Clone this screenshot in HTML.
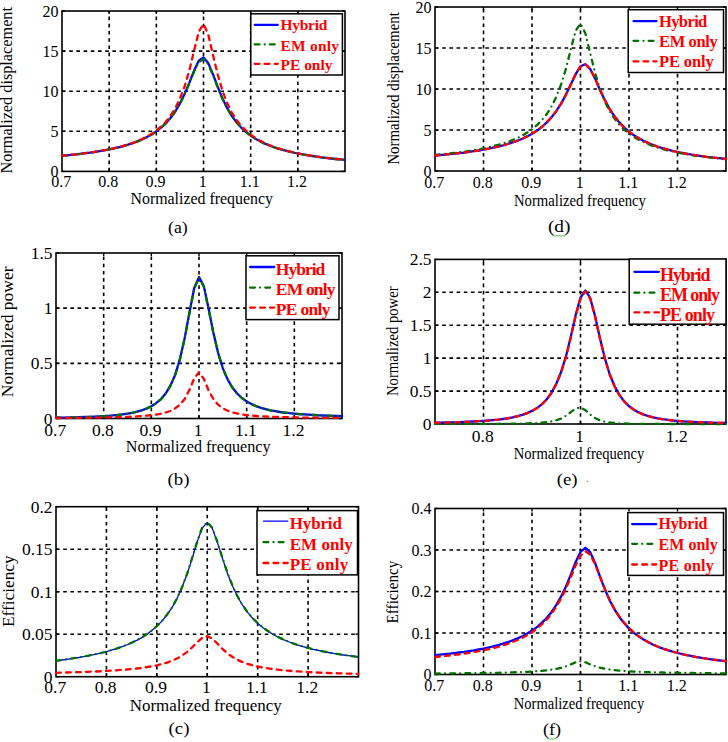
<!DOCTYPE html>
<html><head><meta charset="utf-8"><style>
html,body{margin:0;padding:0;background:#fff;}
svg{display:block;}
.grid{stroke:#000;stroke-width:1.6;stroke-dasharray:3.6 3.6;}
.ax{stroke:#000;stroke-width:1.4;}
.tk{font-family:"Liberation Serif", serif;font-size:16px;fill:#000;}
.lb{font-family:"Liberation Serif", serif;font-size:16px;fill:#000;}
.lg{font-family:"Liberation Serif", serif;font-size:16px;font-weight:bold;fill:#ff0000;}
</style></head><body>
<svg width="728" height="742" viewBox="0 0 728 742">
<rect width="728" height="742" fill="#fff"/>
<line x1="109.17" y1="171.4" x2="109.17" y2="11" class="grid"/>
<line x1="156.33" y1="171.4" x2="156.33" y2="11" class="grid"/>
<line x1="203.5" y1="171.4" x2="203.5" y2="11" class="grid"/>
<line x1="250.67" y1="171.4" x2="250.67" y2="11" class="grid"/>
<line x1="297.83" y1="171.4" x2="297.83" y2="11" class="grid"/>
<line x1="62" y1="131.3" x2="345" y2="131.3" class="grid"/>
<line x1="62" y1="91.2" x2="345" y2="91.2" class="grid"/>
<line x1="62" y1="51.1" x2="345" y2="51.1" class="grid"/>
<line x1="109.17" y1="171.4" x2="109.17" y2="168.4" class="ax"/><line x1="109.17" y1="11" x2="109.17" y2="14" class="ax"/>
<line x1="156.33" y1="171.4" x2="156.33" y2="168.4" class="ax"/><line x1="156.33" y1="11" x2="156.33" y2="14" class="ax"/>
<line x1="203.5" y1="171.4" x2="203.5" y2="168.4" class="ax"/><line x1="203.5" y1="11" x2="203.5" y2="14" class="ax"/>
<line x1="250.67" y1="171.4" x2="250.67" y2="168.4" class="ax"/><line x1="250.67" y1="11" x2="250.67" y2="14" class="ax"/>
<line x1="297.83" y1="171.4" x2="297.83" y2="168.4" class="ax"/><line x1="297.83" y1="11" x2="297.83" y2="14" class="ax"/>
<line x1="62" y1="171.4" x2="65" y2="171.4" class="ax"/><line x1="345" y1="171.4" x2="342" y2="171.4" class="ax"/>
<line x1="62" y1="131.3" x2="65" y2="131.3" class="ax"/><line x1="345" y1="131.3" x2="342" y2="131.3" class="ax"/>
<line x1="62" y1="91.2" x2="65" y2="91.2" class="ax"/><line x1="345" y1="91.2" x2="342" y2="91.2" class="ax"/>
<line x1="62" y1="51.1" x2="65" y2="51.1" class="ax"/><line x1="345" y1="51.1" x2="342" y2="51.1" class="ax"/>
<line x1="62" y1="11" x2="65" y2="11" class="ax"/><line x1="345" y1="11" x2="342" y2="11" class="ax"/>
<rect x="62" y="11" width="283" height="160.4" fill="none" stroke="#000" stroke-width="1.6"/>
<polyline points="62.0,155.7 66.7,155.3 71.4,154.8 76.2,154.3 80.9,153.8 85.6,153.2 90.3,152.6 95.0,151.9 99.7,151.1 104.5,150.3 109.2,149.4 113.9,148.4 118.6,147.3 123.3,146.1 128.0,144.7 132.8,143.1 137.5,141.4 142.2,139.4 146.9,137.1 151.6,134.5 156.3,131.4 161.1,127.7 165.8,123.3 170.5,118.0 175.2,111.5 179.9,103.6 184.6,93.9 189.4,82.6 194.1,70.6 198.8,60.8 203.5,57.5 208.2,62.9 212.9,74.1 217.7,86.7 222.4,98.2 227.1,107.9 231.8,115.9 236.5,122.3 241.2,127.6 246.0,131.9 250.7,135.6 255.4,138.7 260.1,141.3 264.8,143.6 269.5,145.5 274.2,147.3 279.0,148.8 283.7,150.2 288.4,151.4 293.1,152.5 297.8,153.5 302.6,154.4 307.3,155.2 312.0,156.0 316.7,156.7 321.4,157.3 326.1,157.9 330.9,158.5 335.6,159.0 340.3,159.4 345.0,159.9" fill="none" stroke="#0000ff" stroke-width="2.3" stroke-linecap="round" stroke-linejoin="round"/>
<polyline points="62.0,155.7 66.7,155.3 71.4,154.8 76.2,154.3 80.9,153.8 85.6,153.2 90.3,152.6 95.0,151.9 99.7,151.1 104.5,150.3 109.2,149.4 113.9,148.4 118.6,147.3 123.3,146.1 128.0,144.7 132.8,143.2 137.5,141.4 142.2,139.4 146.9,137.2 151.6,134.5 156.3,131.4 161.1,127.8 165.8,123.4 170.5,118.1 175.2,111.7 179.9,103.9 184.6,94.4 189.4,83.3 194.1,71.6 198.8,62.2 203.5,59.1 208.2,64.3 212.9,75.1 217.7,87.4 222.4,98.7 227.1,108.2 231.8,116.1 236.5,122.4 241.2,127.7 246.0,132.0 250.7,135.6 255.4,138.7 260.1,141.3 264.8,143.6 269.5,145.6 274.2,147.3 279.0,148.8 283.7,150.2 288.4,151.4 293.1,152.5 297.8,153.5 302.6,154.4 307.3,155.2 312.0,156.0 316.7,156.7 321.4,157.3 326.1,157.9 330.9,158.5 335.6,159.0 340.3,159.4 345.0,159.9" fill="none" stroke="#007000" stroke-width="2.3" stroke-linecap="round" stroke-linejoin="round" stroke-dasharray="4.8 5.2 0 5.2"/>
<polyline points="62.0,155.7 66.7,155.3 71.4,154.8 76.2,154.3 80.9,153.7 85.6,153.1 90.3,152.5 95.0,151.8 99.7,151.0 104.5,150.2 109.2,149.3 113.9,148.3 118.6,147.1 123.3,145.9 128.0,144.5 132.8,142.9 137.5,141.1 142.2,139.0 146.9,136.6 151.6,133.8 156.3,130.5 161.1,126.6 165.8,121.8 170.5,115.8 175.2,108.3 179.9,98.7 184.6,86.3 189.4,70.2 194.1,50.6 198.8,31.7 203.5,24.0 208.2,34.3 212.9,54.6 217.7,74.5 222.4,90.6 227.1,103.1 231.8,112.6 236.5,120.0 241.2,126.0 246.0,130.7 250.7,134.7 255.4,138.0 260.1,140.7 264.8,143.1 269.5,145.2 274.2,147.0 279.0,148.6 283.7,150.0 288.4,151.2 293.1,152.4 297.8,153.4 302.6,154.3 307.3,155.1 312.0,155.9 316.7,156.6 321.4,157.2 326.1,157.8 330.9,158.4 335.6,158.9 340.3,159.4 345.0,159.8" fill="none" stroke="#ff0000" stroke-width="2.3" stroke-linecap="round" stroke-linejoin="round" stroke-dasharray="4.8 5.2"/>
<rect x="250.8" y="13.8" width="91.6" height="61.2" fill="#fff" stroke="#000" stroke-width="1.5"/>
<line x1="254.7" y1="24.8" x2="277.8" y2="24.8" stroke="#0000ff" stroke-width="2.3" stroke-linecap="round"/>
<text x="280.5" y="29.8" class="lg" style="font-size:15.5px" textLength="46.8" lengthAdjust="spacing">Hybrid</text>
<line x1="254.7" y1="44.4" x2="277.8" y2="44.4" stroke="#007000" stroke-width="2.3" stroke-linecap="round" stroke-dasharray="4.8 5.2 0 5.2"/>
<text x="280.5" y="50.6" class="lg" style="font-size:15.5px" textLength="58.5" lengthAdjust="spacing">EM only</text>
<line x1="254.7" y1="63.8" x2="277.8" y2="63.8" stroke="#ff0000" stroke-width="2.3" stroke-linecap="round" stroke-dasharray="4.8 5.2"/>
<text x="280.5" y="70.0" class="lg" style="font-size:15.5px" textLength="52" lengthAdjust="spacing">PE only</text>
<text x="58.5" y="176.9" class="tk" style="font-size:16px" text-anchor="end">0</text>
<text x="58.5" y="136.8" class="tk" style="font-size:16px" text-anchor="end">5</text>
<text x="58.5" y="96.7" class="tk" style="font-size:16px" text-anchor="end">10</text>
<text x="58.5" y="56.6" class="tk" style="font-size:16px" text-anchor="end">15</text>
<text x="58.5" y="16.5" class="tk" style="font-size:16px" text-anchor="end">20</text>
<text x="61.2" y="186.5" class="tk" style="font-size:16px" text-anchor="middle">0.7</text>
<text x="108.37" y="186.5" class="tk" style="font-size:16px" text-anchor="middle">0.8</text>
<text x="155.53" y="186.5" class="tk" style="font-size:16px" text-anchor="middle">0.9</text>
<text x="202.7" y="186.5" class="tk" style="font-size:16px" text-anchor="middle">1</text>
<text x="249.87" y="186.5" class="tk" style="font-size:16px" text-anchor="middle">1.1</text>
<text x="297.03" y="186.5" class="tk" style="font-size:16px" text-anchor="middle">1.2</text>
<text transform="translate(12,173.5) rotate(-90)" x="0" y="0" class="lb" textLength="166.5" lengthAdjust="spacingAndGlyphs">Normalized displacement</text>
<text x="130.5" y="204" class="lb" textLength="142.5" lengthAdjust="spacingAndGlyphs">Normalized frequency</text>
<text x="168" y="233" class="lb" textLength="19.7" lengthAdjust="spacingAndGlyphs">(a)</text>
<line x1="103.67" y1="418.5" x2="103.67" y2="253" class="grid"/>
<line x1="151.33" y1="418.5" x2="151.33" y2="253" class="grid"/>
<line x1="199" y1="418.5" x2="199" y2="253" class="grid"/>
<line x1="246.67" y1="418.5" x2="246.67" y2="253" class="grid"/>
<line x1="294.33" y1="418.5" x2="294.33" y2="253" class="grid"/>
<line x1="56" y1="363.33" x2="342" y2="363.33" class="grid"/>
<line x1="56" y1="308.17" x2="342" y2="308.17" class="grid"/>
<line x1="103.67" y1="418.5" x2="103.67" y2="415.5" class="ax"/><line x1="103.67" y1="253" x2="103.67" y2="256" class="ax"/>
<line x1="151.33" y1="418.5" x2="151.33" y2="415.5" class="ax"/><line x1="151.33" y1="253" x2="151.33" y2="256" class="ax"/>
<line x1="199" y1="418.5" x2="199" y2="415.5" class="ax"/><line x1="199" y1="253" x2="199" y2="256" class="ax"/>
<line x1="246.67" y1="418.5" x2="246.67" y2="415.5" class="ax"/><line x1="246.67" y1="253" x2="246.67" y2="256" class="ax"/>
<line x1="294.33" y1="418.5" x2="294.33" y2="415.5" class="ax"/><line x1="294.33" y1="253" x2="294.33" y2="256" class="ax"/>
<line x1="56" y1="418.5" x2="59" y2="418.5" class="ax"/><line x1="342" y1="418.5" x2="339" y2="418.5" class="ax"/>
<line x1="56" y1="363.33" x2="59" y2="363.33" class="ax"/><line x1="342" y1="363.33" x2="339" y2="363.33" class="ax"/>
<line x1="56" y1="308.17" x2="59" y2="308.17" class="ax"/><line x1="342" y1="308.17" x2="339" y2="308.17" class="ax"/>
<line x1="56" y1="253" x2="59" y2="253" class="ax"/><line x1="342" y1="253" x2="339" y2="253" class="ax"/>
<rect x="56" y="253" width="286" height="165.5" fill="none" stroke="#000" stroke-width="1.6"/>
<polyline points="56.0,417.7 60.8,417.7 65.5,417.6 70.3,417.5 75.1,417.3 79.8,417.2 84.6,417.0 89.4,416.9 94.1,416.7 98.9,416.4 103.7,416.1 108.4,415.8 113.2,415.4 118.0,414.9 122.7,414.3 127.5,413.6 132.3,412.8 137.0,411.7 141.8,410.3 146.6,408.5 151.3,406.3 156.1,403.2 160.9,399.2 165.6,393.6 170.4,385.7 175.2,374.7 179.9,359.2 184.7,338.0 189.5,312.3 194.2,288.0 199.0,277.1 203.8,286.0 208.5,308.2 213.3,332.4 218.1,352.8 222.8,368.1 227.6,379.4 232.4,387.5 237.1,393.5 241.9,398.0 246.7,401.4 251.4,404.1 256.2,406.2 261.0,407.8 265.7,409.2 270.5,410.3 275.3,411.2 280.0,412.0 284.8,412.6 289.6,413.2 294.3,413.6 299.1,414.1 303.9,414.4 308.6,414.7 313.4,415.0 318.2,415.3 322.9,415.5 327.7,415.7 332.5,415.9 337.2,416.0 342.0,416.2" fill="none" stroke="#0000ff" stroke-width="2.3" stroke-linecap="round" stroke-linejoin="round"/>
<polyline points="56.0,417.7 60.8,417.7 65.5,417.6 70.3,417.5 75.1,417.3 79.8,417.2 84.6,417.1 89.4,416.9 94.1,416.7 98.9,416.4 103.7,416.1 108.4,415.8 113.2,415.4 118.0,414.9 122.7,414.4 127.5,413.7 132.3,412.8 137.0,411.7 141.8,410.3 146.6,408.6 151.3,406.3 156.1,403.3 160.9,399.3 165.6,393.7 170.4,385.9 175.2,374.9 179.9,359.4 184.7,338.4 189.5,312.8 194.2,288.7 199.0,277.8 203.8,286.7 208.5,308.8 213.3,332.9 218.1,353.1 222.8,368.4 227.6,379.6 232.4,387.7 237.1,393.6 241.9,398.1 246.7,401.5 251.4,404.1 256.2,406.2 261.0,407.9 265.7,409.2 270.5,410.3 275.3,411.2 280.0,412.0 284.8,412.6 289.6,413.2 294.3,413.7 299.1,414.1 303.9,414.4 308.6,414.8 313.4,415.0 318.2,415.3 322.9,415.5 327.7,415.7 332.5,415.9 337.2,416.0 342.0,416.2" fill="none" stroke="#007000" stroke-width="2.3" stroke-linecap="round" stroke-linejoin="round" stroke-dasharray="4.8 5.2 0 5.2"/>
<polyline points="56.0,418.0 60.8,418.0 65.5,418.0 70.3,417.9 75.1,417.9 79.8,417.9 84.6,417.8 89.4,417.8 94.1,417.7 98.9,417.6 103.7,417.5 108.4,417.4 113.2,417.3 118.0,417.2 122.7,417.1 127.5,416.9 132.3,416.7 137.0,416.4 141.8,416.1 146.6,415.7 151.3,415.2 156.1,414.6 160.9,413.7 165.6,412.5 170.4,410.9 175.2,408.4 179.9,404.7 184.7,398.9 189.5,389.9 194.2,378.4 199.0,372.1 203.8,378.8 208.5,390.2 213.3,399.0 218.1,404.7 222.8,408.3 227.6,410.7 232.4,412.4 237.1,413.5 241.9,414.4 246.7,415.1 251.4,415.6 256.2,416.0 261.0,416.3 265.7,416.5 270.5,416.8 275.3,416.9 280.0,417.1 284.8,417.2 289.6,417.3 294.3,417.4 299.1,417.5 303.9,417.6 308.6,417.7 313.4,417.7 318.2,417.8 322.9,417.8 327.7,417.9 332.5,417.9 337.2,417.9 342.0,418.0" fill="none" stroke="#ff0000" stroke-width="2.3" stroke-linecap="round" stroke-linejoin="round" stroke-dasharray="4.8 5.2"/>
<rect x="246" y="255.8" width="93" height="63.8" fill="#fff" stroke="#000" stroke-width="1.5"/>
<line x1="250.1" y1="267" x2="274.2" y2="267" stroke="#0000ff" stroke-width="2.3" stroke-linecap="round"/>
<text x="275.8" y="274.6" class="lg" style="font-size:17.5px" textLength="49.5" lengthAdjust="spacing">Hybrid</text>
<line x1="250.1" y1="287.6" x2="274.2" y2="287.6" stroke="#007000" stroke-width="2.3" stroke-linecap="round" stroke-dasharray="4.8 5.2 0 5.2"/>
<text x="275.8" y="294.8" class="lg" style="font-size:17.5px" textLength="59.7" lengthAdjust="spacing">EM only</text>
<line x1="250.1" y1="307.6" x2="274.2" y2="307.6" stroke="#ff0000" stroke-width="2.3" stroke-linecap="round" stroke-dasharray="4.8 5.2"/>
<text x="275.8" y="315.2" class="lg" style="font-size:17.5px" textLength="54.7" lengthAdjust="spacing">PE only</text>
<text x="52.5" y="424.52" class="tk" style="font-size:17.5px" text-anchor="end">0</text>
<text x="52.5" y="369.35" class="tk" style="font-size:17.5px" text-anchor="end">0.5</text>
<text x="52.5" y="314.18" class="tk" style="font-size:17.5px" text-anchor="end">1</text>
<text x="52.5" y="259.02" class="tk" style="font-size:17.5px" text-anchor="end">1.5</text>
<text x="55.2" y="435.5" class="tk" style="font-size:17.5px" text-anchor="middle">0.7</text>
<text x="102.87" y="435.5" class="tk" style="font-size:17.5px" text-anchor="middle">0.8</text>
<text x="150.53" y="435.5" class="tk" style="font-size:17.5px" text-anchor="middle">0.9</text>
<text x="198.2" y="435.5" class="tk" style="font-size:17.5px" text-anchor="middle">1</text>
<text x="245.87" y="435.5" class="tk" style="font-size:17.5px" text-anchor="middle">1.1</text>
<text x="293.53" y="435.5" class="tk" style="font-size:17.5px" text-anchor="middle">1.2</text>
<text transform="translate(13,397.2) rotate(-90)" x="0" y="0" class="lb" textLength="130.8" lengthAdjust="spacingAndGlyphs">Normalized power</text>
<text x="125.8" y="451.8" class="lb" textLength="144.7" lengthAdjust="spacingAndGlyphs">Normalized frequency</text>
<text x="167.5" y="485" class="lb" textLength="22" lengthAdjust="spacingAndGlyphs">(b)</text>
<line x1="106.42" y1="676.7" x2="106.42" y2="506.7" class="grid"/>
<line x1="156.83" y1="676.7" x2="156.83" y2="506.7" class="grid"/>
<line x1="207.25" y1="676.7" x2="207.25" y2="506.7" class="grid"/>
<line x1="257.67" y1="676.7" x2="257.67" y2="506.7" class="grid"/>
<line x1="308.08" y1="676.7" x2="308.08" y2="506.7" class="grid"/>
<line x1="56" y1="634.2" x2="358.5" y2="634.2" class="grid"/>
<line x1="56" y1="591.7" x2="358.5" y2="591.7" class="grid"/>
<line x1="56" y1="549.2" x2="358.5" y2="549.2" class="grid"/>
<line x1="106.42" y1="676.7" x2="106.42" y2="673.7" class="ax"/><line x1="106.42" y1="506.7" x2="106.42" y2="509.7" class="ax"/>
<line x1="156.83" y1="676.7" x2="156.83" y2="673.7" class="ax"/><line x1="156.83" y1="506.7" x2="156.83" y2="509.7" class="ax"/>
<line x1="207.25" y1="676.7" x2="207.25" y2="673.7" class="ax"/><line x1="207.25" y1="506.7" x2="207.25" y2="509.7" class="ax"/>
<line x1="257.67" y1="676.7" x2="257.67" y2="673.7" class="ax"/><line x1="257.67" y1="506.7" x2="257.67" y2="509.7" class="ax"/>
<line x1="308.08" y1="676.7" x2="308.08" y2="673.7" class="ax"/><line x1="308.08" y1="506.7" x2="308.08" y2="509.7" class="ax"/>
<line x1="56" y1="676.7" x2="59" y2="676.7" class="ax"/><line x1="358.5" y1="676.7" x2="355.5" y2="676.7" class="ax"/>
<line x1="56" y1="634.2" x2="59" y2="634.2" class="ax"/><line x1="358.5" y1="634.2" x2="355.5" y2="634.2" class="ax"/>
<line x1="56" y1="591.7" x2="59" y2="591.7" class="ax"/><line x1="358.5" y1="591.7" x2="355.5" y2="591.7" class="ax"/>
<line x1="56" y1="549.2" x2="59" y2="549.2" class="ax"/><line x1="358.5" y1="549.2" x2="355.5" y2="549.2" class="ax"/>
<line x1="56" y1="506.7" x2="59" y2="506.7" class="ax"/><line x1="358.5" y1="506.7" x2="355.5" y2="506.7" class="ax"/>
<rect x="56" y="506.7" width="302.5" height="170" fill="none" stroke="#000" stroke-width="1.6"/>
<polyline points="56.0,660.8 61.0,660.2 66.1,659.5 71.1,658.7 76.2,658.0 81.2,657.1 86.3,656.2 91.3,655.2 96.3,654.1 101.4,652.9 106.4,651.7 111.5,650.2 116.5,648.7 121.5,646.9 126.6,645.0 131.6,642.8 136.7,640.4 141.7,637.6 146.8,634.3 151.8,630.6 156.8,626.3 161.9,621.1 166.9,615.0 172.0,607.6 177.0,598.6 182.0,587.5 187.1,574.1 192.1,558.5 197.2,541.9 202.2,528.0 207.3,522.6 212.3,528.4 217.3,542.1 222.4,558.1 227.4,573.2 232.5,586.0 237.5,596.5 242.5,605.2 247.6,612.4 252.6,618.3 257.7,623.3 262.7,627.5 267.8,631.1 272.8,634.2 277.8,637.0 282.9,639.4 287.9,641.5 293.0,643.4 298.0,645.1 303.0,646.6 308.1,648.0 313.1,649.3 318.2,650.4 323.2,651.5 328.3,652.5 333.3,653.4 338.3,654.2 343.4,655.0 348.4,655.7 353.5,656.4 358.5,657.0" fill="none" stroke="#0000ff" stroke-width="1.3" stroke-linecap="round" stroke-linejoin="round"/>
<polyline points="56.0,660.8 61.0,660.1 66.1,659.4 71.1,658.7 76.2,657.9 81.2,657.0 86.3,656.1 91.3,655.1 96.3,654.0 101.4,652.9 106.4,651.6 111.5,650.2 116.5,648.6 121.5,646.8 126.6,644.9 131.6,642.7 136.7,640.3 141.7,637.4 146.8,634.2 151.8,630.5 156.8,626.1 161.9,621.0 166.9,614.8 172.0,607.4 177.0,598.3 182.0,587.3 187.1,573.8 192.1,558.1 197.2,541.4 202.2,527.6 207.3,522.1 212.3,527.9 217.3,541.7 222.4,557.8 227.4,572.8 232.5,585.7 237.5,596.3 242.5,605.0 247.6,612.2 252.6,618.1 257.7,623.1 262.7,627.3 267.8,631.0 272.8,634.1 277.8,636.9 282.9,639.3 287.9,641.4 293.0,643.3 298.0,645.0 303.0,646.5 308.1,647.9 313.1,649.2 318.2,650.3 323.2,651.4 328.3,652.4 333.3,653.3 338.3,654.1 343.4,654.9 348.4,655.6 353.5,656.3 358.5,656.9" fill="none" stroke="#007000" stroke-width="2.3" stroke-linecap="round" stroke-linejoin="round" stroke-dasharray="4.8 5.2 0 5.2"/>
<polyline points="56.0,672.8 61.0,672.7 66.1,672.5 71.1,672.4 76.2,672.2 81.2,672.1 86.3,671.9 91.3,671.7 96.3,671.5 101.4,671.2 106.4,670.9 111.5,670.6 116.5,670.3 121.5,669.9 126.6,669.5 131.6,669.0 136.7,668.5 141.7,667.9 146.8,667.1 151.8,666.3 156.8,665.3 161.9,664.1 166.9,662.6 172.0,660.7 177.0,658.5 182.0,655.6 187.1,651.9 192.1,647.4 197.2,642.3 202.2,637.8 207.3,636.2 212.3,638.6 217.3,643.5 222.4,648.8 227.4,653.3 232.5,657.0 237.5,659.8 242.5,662.1 247.6,663.9 252.6,665.3 257.7,666.5 262.7,667.5 267.8,668.3 272.8,669.1 277.8,669.7 282.9,670.2 287.9,670.7 293.0,671.1 298.0,671.4 303.0,671.8 308.1,672.1 313.1,672.3 318.2,672.6 323.2,672.8 328.3,673.0 333.3,673.2 338.3,673.3 343.4,673.5 348.4,673.6 353.5,673.7 358.5,673.9" fill="none" stroke="#ff0000" stroke-width="2.3" stroke-linecap="round" stroke-linejoin="round" stroke-dasharray="4.8 5.2"/>
<rect x="257" y="510.6" width="100.5" height="64.3" fill="#fff" stroke="#000" stroke-width="1.5"/>
<line x1="263.5" y1="521.2" x2="287.7" y2="521.2" stroke="#0000ff" stroke-width="1.3" stroke-linecap="round"/>
<text x="289.7" y="529" class="lg" style="font-size:17px" textLength="52.2" lengthAdjust="spacing">Hybrid</text>
<line x1="263.5" y1="542.2" x2="287.7" y2="542.2" stroke="#007000" stroke-width="2.3" stroke-linecap="round" stroke-dasharray="4.8 5.2 0 5.2"/>
<text x="289.7" y="549.6" class="lg" style="font-size:17px" textLength="63.1" lengthAdjust="spacing">EM only</text>
<line x1="263.5" y1="563" x2="287.7" y2="563" stroke="#ff0000" stroke-width="2.3" stroke-linecap="round" stroke-dasharray="4.8 5.2"/>
<text x="289.7" y="570.2" class="lg" style="font-size:17px" textLength="58.5" lengthAdjust="spacing">PE only</text>
<text x="52.5" y="682.72" class="tk" style="font-size:17.5px" text-anchor="end">0</text>
<text x="52.5" y="640.22" class="tk" style="font-size:17.5px" text-anchor="end">0.05</text>
<text x="52.5" y="597.72" class="tk" style="font-size:17.5px" text-anchor="end">0.1</text>
<text x="52.5" y="555.22" class="tk" style="font-size:17.5px" text-anchor="end">0.15</text>
<text x="52.5" y="512.72" class="tk" style="font-size:17.5px" text-anchor="end">0.2</text>
<text x="55.2" y="692.5" class="tk" style="font-size:17.5px" text-anchor="middle">0.7</text>
<text x="105.62" y="692.5" class="tk" style="font-size:17.5px" text-anchor="middle">0.8</text>
<text x="156.03" y="692.5" class="tk" style="font-size:17.5px" text-anchor="middle">0.9</text>
<text x="206.45" y="692.5" class="tk" style="font-size:17.5px" text-anchor="middle">1</text>
<text x="256.87" y="692.5" class="tk" style="font-size:17.5px" text-anchor="middle">1.1</text>
<text x="307.28" y="692.5" class="tk" style="font-size:17.5px" text-anchor="middle">1.2</text>
<text transform="translate(14,627) rotate(-90)" x="0" y="0" class="lb" textLength="71.7" lengthAdjust="spacingAndGlyphs">Efficiency</text>
<text x="129.7" y="710.7" class="lb" textLength="152" lengthAdjust="spacingAndGlyphs">Normalized frequency</text>
<text x="168.6" y="734" class="lb" textLength="20.9" lengthAdjust="spacingAndGlyphs">(c)</text>
<line x1="483.5" y1="171" x2="483.5" y2="7" class="grid"/>
<line x1="532" y1="171" x2="532" y2="7" class="grid"/>
<line x1="580.5" y1="171" x2="580.5" y2="7" class="grid"/>
<line x1="629" y1="171" x2="629" y2="7" class="grid"/>
<line x1="677.5" y1="171" x2="677.5" y2="7" class="grid"/>
<line x1="435" y1="130" x2="726" y2="130" class="grid"/>
<line x1="435" y1="89" x2="726" y2="89" class="grid"/>
<line x1="435" y1="48" x2="726" y2="48" class="grid"/>
<line x1="483.5" y1="171" x2="483.5" y2="168" class="ax"/><line x1="483.5" y1="7" x2="483.5" y2="10" class="ax"/>
<line x1="532" y1="171" x2="532" y2="168" class="ax"/><line x1="532" y1="7" x2="532" y2="10" class="ax"/>
<line x1="580.5" y1="171" x2="580.5" y2="168" class="ax"/><line x1="580.5" y1="7" x2="580.5" y2="10" class="ax"/>
<line x1="629" y1="171" x2="629" y2="168" class="ax"/><line x1="629" y1="7" x2="629" y2="10" class="ax"/>
<line x1="677.5" y1="171" x2="677.5" y2="168" class="ax"/><line x1="677.5" y1="7" x2="677.5" y2="10" class="ax"/>
<line x1="435" y1="171" x2="438" y2="171" class="ax"/><line x1="726" y1="171" x2="723" y2="171" class="ax"/>
<line x1="435" y1="130" x2="438" y2="130" class="ax"/><line x1="726" y1="130" x2="723" y2="130" class="ax"/>
<line x1="435" y1="89" x2="438" y2="89" class="ax"/><line x1="726" y1="89" x2="723" y2="89" class="ax"/>
<line x1="435" y1="48" x2="438" y2="48" class="ax"/><line x1="726" y1="48" x2="723" y2="48" class="ax"/>
<line x1="435" y1="7" x2="438" y2="7" class="ax"/><line x1="726" y1="7" x2="723" y2="7" class="ax"/>
<rect x="435" y="7" width="291" height="164" fill="none" stroke="#000" stroke-width="1.6"/>
<polyline points="435.0,155.6 439.9,155.2 444.7,154.7 449.6,154.2 454.4,153.7 459.2,153.2 464.1,152.6 469.0,151.9 473.8,151.2 478.7,150.5 483.5,149.6 488.4,148.7 493.2,147.7 498.1,146.6 502.9,145.4 507.8,144.0 512.6,142.4 517.5,140.7 522.3,138.7 527.2,136.4 532.0,133.7 536.9,130.6 541.7,127.0 546.6,122.6 551.4,117.4 556.2,111.2 561.1,103.6 566.0,94.6 570.8,84.5 575.6,74.2 580.5,66.3 585.4,64.2 590.2,69.0 595.1,78.6 599.9,89.7 604.8,100.0 609.6,108.9 614.5,116.3 619.3,122.4 624.2,127.5 629.0,131.7 633.9,135.2 638.7,138.2 643.5,140.8 648.4,143.1 653.2,145.0 658.1,146.8 663.0,148.3 667.8,149.6 672.6,150.9 677.5,152.0 682.4,153.0 687.2,153.9 692.0,154.7 696.9,155.4 701.8,156.1 706.6,156.8 711.5,157.4 716.3,157.9 721.2,158.4 726.0,158.9" fill="none" stroke="#0000ff" stroke-width="2.3" stroke-linecap="round" stroke-linejoin="round"/>
<polyline points="435.0,155.0 439.9,154.5 444.7,154.0 449.6,153.5 454.4,152.9 459.2,152.3 464.1,151.7 469.0,151.0 473.8,150.2 478.7,149.3 483.5,148.4 488.4,147.4 493.2,146.2 498.1,144.9 502.9,143.5 507.8,141.9 512.6,140.0 517.5,137.9 522.3,135.5 527.2,132.6 532.0,129.3 536.9,125.2 541.7,120.3 546.6,114.3 551.4,106.7 556.2,97.1 561.1,84.5 566.0,68.5 570.8,49.3 575.6,30.9 580.5,23.5 585.4,33.5 590.2,53.2 595.1,72.9 599.9,89.0 604.8,101.5 609.6,111.1 614.5,118.6 619.3,124.6 624.2,129.5 629.0,133.5 633.9,136.9 638.7,139.7 643.5,142.1 648.4,144.2 653.2,146.1 658.1,147.7 663.0,149.1 667.8,150.4 672.6,151.5 677.5,152.6 682.4,153.5 687.2,154.4 692.0,155.2 696.9,155.9 701.8,156.5 706.6,157.1 711.5,157.7 716.3,158.2 721.2,158.7 726.0,159.2" fill="none" stroke="#007000" stroke-width="2.3" stroke-linecap="round" stroke-linejoin="round" stroke-dasharray="4.8 5.2 0 5.2"/>
<polyline points="435.0,155.6 439.9,155.2 444.7,154.7 449.6,154.2 454.4,153.7 459.2,153.2 464.1,152.6 469.0,151.9 473.8,151.2 478.7,150.5 483.5,149.6 488.4,148.7 493.2,147.7 498.1,146.6 502.9,145.4 507.8,144.0 512.6,142.4 517.5,140.7 522.3,138.7 527.2,136.4 532.0,133.7 536.9,130.6 541.7,127.0 546.6,122.6 551.4,117.4 556.2,111.2 561.1,103.6 566.0,94.6 570.8,84.5 575.6,74.2 580.5,66.3 585.4,64.2 590.2,69.0 595.1,78.6 599.9,89.7 604.8,100.0 609.6,108.9 614.5,116.3 619.3,122.4 624.2,127.5 629.0,131.7 633.9,135.2 638.7,138.2 643.5,140.8 648.4,143.1 653.2,145.0 658.1,146.8 663.0,148.3 667.8,149.6 672.6,150.9 677.5,152.0 682.4,153.0 687.2,153.9 692.0,154.7 696.9,155.4 701.8,156.1 706.6,156.8 711.5,157.4 716.3,157.9 721.2,158.4 726.0,158.9" fill="none" stroke="#ff0000" stroke-width="2.3" stroke-linecap="round" stroke-linejoin="round" stroke-dasharray="4.8 5.2"/>
<rect x="628.2" y="9.7" width="95.3" height="62.8" fill="#fff" stroke="#000" stroke-width="1.5"/>
<line x1="633.5" y1="21.1" x2="656.5" y2="21.1" stroke="#0000ff" stroke-width="2.3" stroke-linecap="round"/>
<text x="659" y="26.6" class="lg" style="font-size:16.5px" textLength="48.3" lengthAdjust="spacing">Hybrid</text>
<line x1="633.5" y1="40.8" x2="656.5" y2="40.8" stroke="#007000" stroke-width="2.3" stroke-linecap="round" stroke-dasharray="4.8 5.2 0 5.2"/>
<text x="659" y="46.8" class="lg" style="font-size:16.5px" textLength="58.8" lengthAdjust="spacing">EM only</text>
<line x1="633.5" y1="61.3" x2="656.5" y2="61.3" stroke="#ff0000" stroke-width="2.3" stroke-linecap="round" stroke-dasharray="4.8 5.2"/>
<text x="659" y="66.8" class="lg" style="font-size:16.5px" textLength="54.7" lengthAdjust="spacing">PE only</text>
<text x="431.5" y="176.5" class="tk" style="font-size:16px" text-anchor="end">0</text>
<text x="431.5" y="135.5" class="tk" style="font-size:16px" text-anchor="end">5</text>
<text x="431.5" y="94.5" class="tk" style="font-size:16px" text-anchor="end">10</text>
<text x="431.5" y="53.5" class="tk" style="font-size:16px" text-anchor="end">15</text>
<text x="431.5" y="12.5" class="tk" style="font-size:16px" text-anchor="end">20</text>
<text x="434.2" y="187.6" class="tk" style="font-size:16px" text-anchor="middle">0.7</text>
<text x="482.7" y="187.6" class="tk" style="font-size:16px" text-anchor="middle">0.8</text>
<text x="531.2" y="187.6" class="tk" style="font-size:16px" text-anchor="middle">0.9</text>
<text x="579.7" y="187.6" class="tk" style="font-size:16px" text-anchor="middle">1</text>
<text x="628.2" y="187.6" class="tk" style="font-size:16px" text-anchor="middle">1.1</text>
<text x="676.7" y="187.6" class="tk" style="font-size:16px" text-anchor="middle">1.2</text>
<text transform="translate(398.5,164.8) rotate(-90)" x="0" y="0" class="lb" textLength="152.7" lengthAdjust="spacingAndGlyphs">Normalized displacement</text>
<text x="514" y="206.2" class="lb" textLength="131.9" lengthAdjust="spacingAndGlyphs">Normalized frequency</text>
<text x="547.9" y="232.4" class="lb" textLength="22.6" lengthAdjust="spacingAndGlyphs">(d)</text>
<path d="M552,236 L553.5,235 L555.0,236.5 L556.5,235 L558.0,236.5 L559.5,235 L561.0,236.5 L562.5,235 L564.0,236.5 L565.5,235" fill="none" stroke="#4b4" stroke-width="1"/>
<line x1="483.5" y1="424" x2="483.5" y2="259.4" class="grid"/>
<line x1="580.5" y1="424" x2="580.5" y2="259.4" class="grid"/>
<line x1="677.5" y1="424" x2="677.5" y2="259.4" class="grid"/>
<line x1="435" y1="391.08" x2="726" y2="391.08" class="grid"/>
<line x1="435" y1="358.16" x2="726" y2="358.16" class="grid"/>
<line x1="435" y1="325.24" x2="726" y2="325.24" class="grid"/>
<line x1="435" y1="292.32" x2="726" y2="292.32" class="grid"/>
<line x1="483.5" y1="424" x2="483.5" y2="421" class="ax"/><line x1="483.5" y1="259.4" x2="483.5" y2="262.4" class="ax"/>
<line x1="580.5" y1="424" x2="580.5" y2="421" class="ax"/><line x1="580.5" y1="259.4" x2="580.5" y2="262.4" class="ax"/>
<line x1="677.5" y1="424" x2="677.5" y2="421" class="ax"/><line x1="677.5" y1="259.4" x2="677.5" y2="262.4" class="ax"/>
<line x1="435" y1="424" x2="438" y2="424" class="ax"/><line x1="726" y1="424" x2="723" y2="424" class="ax"/>
<line x1="435" y1="391.08" x2="438" y2="391.08" class="ax"/><line x1="726" y1="391.08" x2="723" y2="391.08" class="ax"/>
<line x1="435" y1="358.16" x2="438" y2="358.16" class="ax"/><line x1="726" y1="358.16" x2="723" y2="358.16" class="ax"/>
<line x1="435" y1="325.24" x2="438" y2="325.24" class="ax"/><line x1="726" y1="325.24" x2="723" y2="325.24" class="ax"/>
<line x1="435" y1="292.32" x2="438" y2="292.32" class="ax"/><line x1="726" y1="292.32" x2="723" y2="292.32" class="ax"/>
<line x1="435" y1="259.4" x2="438" y2="259.4" class="ax"/><line x1="726" y1="259.4" x2="723" y2="259.4" class="ax"/>
<rect x="435" y="259.4" width="291" height="164.6" fill="none" stroke="#000" stroke-width="1.6"/>
<polyline points="435.0,422.8 439.9,422.7 444.7,422.5 449.6,422.4 454.4,422.3 459.2,422.1 464.1,421.9 469.0,421.7 473.8,421.5 478.7,421.2 483.5,420.9 488.4,420.5 493.2,420.1 498.1,419.6 502.9,419.0 507.8,418.3 512.6,417.4 517.5,416.2 522.3,414.9 527.2,413.1 532.0,410.9 536.9,408.1 541.7,404.4 546.6,399.5 551.4,392.9 556.2,384.0 561.1,372.0 566.0,356.2 570.8,336.7 575.6,315.4 580.5,297.6 585.4,290.5 590.2,298.0 595.1,316.3 599.9,338.1 604.8,358.1 609.6,374.0 614.5,386.0 619.3,394.9 624.2,401.4 629.0,406.2 633.9,409.7 638.7,412.4 643.5,414.5 648.4,416.1 653.2,417.4 658.1,418.4 663.0,419.2 667.8,419.9 672.6,420.5 677.5,420.9 682.4,421.3 687.2,421.6 692.0,421.9 696.9,422.1 701.8,422.3 706.6,422.5 711.5,422.6 716.3,422.8 721.2,422.9 726.0,423.0" fill="none" stroke="#0000ff" stroke-width="2.3" stroke-linecap="round" stroke-linejoin="round"/>
<polyline points="435.0,423.9 439.9,423.9 444.7,423.9 449.6,423.9 454.4,423.9 459.2,423.9 464.1,423.9 469.0,423.9 473.8,423.9 478.7,423.9 483.5,423.8 488.4,423.8 493.2,423.8 498.1,423.8 502.9,423.7 507.8,423.7 512.6,423.6 517.5,423.6 522.3,423.5 527.2,423.4 532.0,423.2 536.9,423.0 541.7,422.6 546.6,422.2 551.4,421.4 556.2,420.3 561.1,418.5 566.0,415.8 570.8,412.1 575.6,408.5 580.5,407.5 585.4,410.2 590.2,414.5 595.1,418.0 599.9,420.3 604.8,421.7 609.6,422.5 614.5,423.0 619.3,423.3 624.2,423.5 629.0,423.7 633.9,423.8 638.7,423.8 643.5,423.9 648.4,423.9 653.2,423.9 658.1,423.9 663.0,423.9 667.8,424.0 672.6,424.0 677.5,424.0 682.4,424.0 687.2,424.0 692.0,424.0 696.9,424.0 701.8,424.0 706.6,424.0 711.5,424.0 716.3,424.0 721.2,424.0 726.0,424.0" fill="none" stroke="#007000" stroke-width="2.3" stroke-linecap="round" stroke-linejoin="round" stroke-dasharray="4.8 5.2 0 5.2"/>
<polyline points="435.0,422.8 439.9,422.7 444.7,422.6 449.6,422.4 454.4,422.3 459.2,422.1 464.1,422.0 469.0,421.8 473.8,421.5 478.7,421.2 483.5,420.9 488.4,420.6 493.2,420.1 498.1,419.6 502.9,419.0 507.8,418.3 512.6,417.4 517.5,416.3 522.3,414.9 527.2,413.2 532.0,411.0 536.9,408.2 541.7,404.5 546.6,399.6 551.4,393.0 556.2,384.2 561.1,372.2 566.0,356.6 570.8,337.2 575.6,316.0 580.5,298.2 585.4,291.2 590.2,298.6 595.1,316.8 599.9,338.6 604.8,358.4 609.6,374.2 614.5,386.2 619.3,395.0 624.2,401.5 629.0,406.2 633.9,409.8 638.7,412.5 643.5,414.6 648.4,416.2 653.2,417.4 658.1,418.5 663.0,419.3 667.8,419.9 672.6,420.5 677.5,420.9 682.4,421.3 687.2,421.6 692.0,421.9 696.9,422.1 701.8,422.3 706.6,422.5 711.5,422.6 716.3,422.8 721.2,422.9 726.0,423.0" fill="none" stroke="#ff0000" stroke-width="2.3" stroke-linecap="round" stroke-linejoin="round" stroke-dasharray="4.8 5.2"/>
<rect x="629.2" y="259" width="96.8" height="65.2" fill="#fff" stroke="#000" stroke-width="1.5"/>
<line x1="634.4" y1="271.8" x2="658.9" y2="271.8" stroke="#0000ff" stroke-width="2.3" stroke-linecap="round"/>
<text x="660" y="280.8" class="lg" style="font-size:18px" textLength="50.5" lengthAdjust="spacing">Hybrid</text>
<line x1="634.4" y1="292.7" x2="658.9" y2="292.7" stroke="#007000" stroke-width="2.3" stroke-linecap="round" stroke-dasharray="4.8 5.2 0 5.2"/>
<text x="660" y="301" class="lg" style="font-size:18px" textLength="60" lengthAdjust="spacing">EM only</text>
<line x1="634.4" y1="312.4" x2="658.9" y2="312.4" stroke="#ff0000" stroke-width="2.3" stroke-linecap="round" stroke-dasharray="4.8 5.2"/>
<text x="660" y="321.2" class="lg" style="font-size:18px" textLength="55" lengthAdjust="spacing">PE only</text>
<text x="431.5" y="430.02" class="tk" style="font-size:17.5px" text-anchor="end">0</text>
<text x="431.5" y="397.1" class="tk" style="font-size:17.5px" text-anchor="end">0.5</text>
<text x="431.5" y="364.18" class="tk" style="font-size:17.5px" text-anchor="end">1</text>
<text x="431.5" y="331.26" class="tk" style="font-size:17.5px" text-anchor="end">1.5</text>
<text x="431.5" y="298.34" class="tk" style="font-size:17.5px" text-anchor="end">2</text>
<text x="431.5" y="265.42" class="tk" style="font-size:17.5px" text-anchor="end">2.5</text>
<text x="482.7" y="441.8" class="tk" style="font-size:17.5px" text-anchor="middle">0.8</text>
<text x="579.7" y="441.8" class="tk" style="font-size:17.5px" text-anchor="middle">1</text>
<text x="676.7" y="441.8" class="tk" style="font-size:17.5px" text-anchor="middle">1.2</text>
<text transform="translate(398,396) rotate(-90)" x="0" y="0" class="lb" textLength="109.6" lengthAdjust="spacingAndGlyphs">Normalized power</text>
<text x="513.8" y="458.8" class="lb" textLength="130.4" lengthAdjust="spacingAndGlyphs">Normalized frequency</text>
<text x="556.7" y="484.6" class="lb" textLength="20.9" lengthAdjust="spacingAndGlyphs">(e)</text>
<circle cx="587.5" cy="481.5" r="0.8" fill="#888"/>
<line x1="483.5" y1="674.5" x2="483.5" y2="508.5" class="grid"/>
<line x1="532" y1="674.5" x2="532" y2="508.5" class="grid"/>
<line x1="580.5" y1="674.5" x2="580.5" y2="508.5" class="grid"/>
<line x1="629" y1="674.5" x2="629" y2="508.5" class="grid"/>
<line x1="677.5" y1="674.5" x2="677.5" y2="508.5" class="grid"/>
<line x1="435" y1="633" x2="726" y2="633" class="grid"/>
<line x1="435" y1="591.5" x2="726" y2="591.5" class="grid"/>
<line x1="435" y1="550" x2="726" y2="550" class="grid"/>
<line x1="483.5" y1="674.5" x2="483.5" y2="671.5" class="ax"/><line x1="483.5" y1="508.5" x2="483.5" y2="511.5" class="ax"/>
<line x1="532" y1="674.5" x2="532" y2="671.5" class="ax"/><line x1="532" y1="508.5" x2="532" y2="511.5" class="ax"/>
<line x1="580.5" y1="674.5" x2="580.5" y2="671.5" class="ax"/><line x1="580.5" y1="508.5" x2="580.5" y2="511.5" class="ax"/>
<line x1="629" y1="674.5" x2="629" y2="671.5" class="ax"/><line x1="629" y1="508.5" x2="629" y2="511.5" class="ax"/>
<line x1="677.5" y1="674.5" x2="677.5" y2="671.5" class="ax"/><line x1="677.5" y1="508.5" x2="677.5" y2="511.5" class="ax"/>
<line x1="435" y1="674.5" x2="438" y2="674.5" class="ax"/><line x1="726" y1="674.5" x2="723" y2="674.5" class="ax"/>
<line x1="435" y1="633" x2="438" y2="633" class="ax"/><line x1="726" y1="633" x2="723" y2="633" class="ax"/>
<line x1="435" y1="591.5" x2="438" y2="591.5" class="ax"/><line x1="726" y1="591.5" x2="723" y2="591.5" class="ax"/>
<line x1="435" y1="550" x2="438" y2="550" class="ax"/><line x1="726" y1="550" x2="723" y2="550" class="ax"/>
<line x1="435" y1="508.5" x2="438" y2="508.5" class="ax"/><line x1="726" y1="508.5" x2="723" y2="508.5" class="ax"/>
<rect x="435" y="508.5" width="291" height="166" fill="none" stroke="#000" stroke-width="1.6"/>
<polyline points="435.0,655.2 439.9,654.7 444.7,654.2 449.6,653.7 454.4,653.1 459.2,652.5 464.1,651.9 469.0,651.1 473.8,650.4 478.7,649.5 483.5,648.6 488.4,647.5 493.2,646.4 498.1,645.1 502.9,643.7 507.8,642.2 512.6,640.4 517.5,638.4 522.3,636.2 527.2,633.6 532.0,630.6 536.9,627.1 541.7,622.9 546.6,618.1 551.4,612.2 556.2,605.1 561.1,596.6 566.0,586.4 570.8,574.6 575.6,562.2 580.5,552.0 585.4,547.8 590.2,552.1 595.1,563.0 599.9,576.3 604.8,589.1 609.6,600.2 614.5,609.4 619.3,617.0 624.2,623.2 629.0,628.4 633.9,632.8 638.7,636.4 643.5,639.6 648.4,642.3 653.2,644.7 658.1,646.8 663.0,648.6 667.8,650.2 672.6,651.7 677.5,653.0 682.4,654.2 687.2,655.2 692.0,656.2 696.9,657.1 701.8,657.9 706.6,658.7 711.5,659.4 716.3,660.0 721.2,660.6 726.0,661.2" fill="none" stroke="#0000ff" stroke-width="2.3" stroke-linecap="round" stroke-linejoin="round"/>
<polyline points="435.0,673.6 439.9,673.5 444.7,673.5 449.6,673.4 454.4,673.4 459.2,673.4 464.1,673.3 469.0,673.2 473.8,673.2 478.7,673.1 483.5,673.0 488.4,673.0 493.2,672.9 498.1,672.8 502.9,672.6 507.8,672.5 512.6,672.4 517.5,672.2 522.3,672.0 527.2,671.8 532.0,671.5 536.9,671.2 541.7,670.8 546.6,670.3 551.4,669.7 556.2,668.9 561.1,667.8 566.0,666.3 570.8,664.4 575.6,662.3 580.5,661.2 585.4,662.3 590.2,664.4 595.1,666.2 599.9,667.7 604.8,668.7 609.6,669.5 614.5,670.1 619.3,670.6 624.2,671.0 629.0,671.3 633.9,671.6 638.7,671.8 643.5,672.0 648.4,672.2 653.2,672.3 658.1,672.4 663.0,672.5 667.8,672.6 672.6,672.7 677.5,672.8 682.4,672.9 687.2,673.0 692.0,673.0 696.9,673.1 701.8,673.1 706.6,673.2 711.5,673.2 716.3,673.3 721.2,673.3 726.0,673.3" fill="none" stroke="#007000" stroke-width="2.3" stroke-linecap="round" stroke-linejoin="round" stroke-dasharray="4.8 5.2 0 5.2"/>
<polyline points="435.0,657.0 439.9,656.5 444.7,656.0 449.6,655.5 454.4,654.9 459.2,654.3 464.1,653.6 469.0,652.9 473.8,652.1 478.7,651.2 483.5,650.2 488.4,649.2 493.2,648.1 498.1,646.8 502.9,645.4 507.8,643.8 512.6,642.0 517.5,640.0 522.3,637.8 527.2,635.2 532.0,632.2 536.9,628.6 541.7,624.5 546.6,619.7 551.4,613.8 556.2,606.9 561.1,598.5 566.0,588.5 570.8,577.2 575.6,565.5 580.5,555.6 585.4,551.3 590.2,554.6 595.1,564.2 599.9,576.5 604.8,588.8 609.6,599.7 614.5,608.9 619.3,616.5 624.2,622.8 629.0,628.1 633.9,632.5 638.7,636.2 643.5,639.4 648.4,642.2 653.2,644.6 658.1,646.7 663.0,648.6 667.8,650.2 672.6,651.7 677.5,653.0 682.4,654.2 687.2,655.3 692.0,656.3 696.9,657.2 701.8,658.0 706.6,658.7 711.5,659.4 716.3,660.1 721.2,660.7 726.0,661.2" fill="none" stroke="#ff0000" stroke-width="2.3" stroke-linecap="round" stroke-linejoin="round" stroke-dasharray="4.8 5.2"/>
<rect x="627.8" y="512.6" width="95.7" height="62.8" fill="#fff" stroke="#000" stroke-width="1.5"/>
<line x1="632.2" y1="524.2" x2="656.2" y2="524.2" stroke="#0000ff" stroke-width="2.3" stroke-linecap="round"/>
<text x="658.6" y="529.4" class="lg" style="font-size:16px" textLength="48.7" lengthAdjust="spacing">Hybrid</text>
<line x1="632.2" y1="543.8" x2="656.2" y2="543.8" stroke="#007000" stroke-width="2.3" stroke-linecap="round" stroke-dasharray="4.8 5.2 0 5.2"/>
<text x="658.6" y="550" class="lg" style="font-size:16px" textLength="59.2" lengthAdjust="spacing">EM only</text>
<line x1="632.2" y1="564.5" x2="656.2" y2="564.5" stroke="#ff0000" stroke-width="2.3" stroke-linecap="round" stroke-dasharray="4.8 5.2"/>
<text x="658.6" y="570.7" class="lg" style="font-size:16px" textLength="55.1" lengthAdjust="spacing">PE only</text>
<text x="431.5" y="680" class="tk" style="font-size:16px" text-anchor="end">0</text>
<text x="431.5" y="638.5" class="tk" style="font-size:16px" text-anchor="end">0.1</text>
<text x="431.5" y="597" class="tk" style="font-size:16px" text-anchor="end">0.2</text>
<text x="431.5" y="555.5" class="tk" style="font-size:16px" text-anchor="end">0.3</text>
<text x="431.5" y="514" class="tk" style="font-size:16px" text-anchor="end">0.4</text>
<text x="434.2" y="691" class="tk" style="font-size:16px" text-anchor="middle">0.7</text>
<text x="482.7" y="691" class="tk" style="font-size:16px" text-anchor="middle">0.8</text>
<text x="531.2" y="691" class="tk" style="font-size:16px" text-anchor="middle">0.9</text>
<text x="579.7" y="691" class="tk" style="font-size:16px" text-anchor="middle">1</text>
<text x="628.2" y="691" class="tk" style="font-size:16px" text-anchor="middle">1.1</text>
<text x="676.7" y="691" class="tk" style="font-size:16px" text-anchor="middle">1.2</text>
<text transform="translate(397.6,623.4) rotate(-90)" x="0" y="0" class="lb" textLength="62.7" lengthAdjust="spacingAndGlyphs">Efficiency</text>
<text x="513.8" y="708.8" class="lb" textLength="130.4" lengthAdjust="spacingAndGlyphs">Normalized frequency</text>
<text x="543" y="734.6" class="lb" textLength="18.1" lengthAdjust="spacingAndGlyphs">(f)</text>
<path d="M547,739 L548.5,738 L550.0,739.5 L551.5,738 L553.0,739.5 L554.5,738 L556.0,739.5" fill="none" stroke="#4b4" stroke-width="1"/>
</svg></body></html>
